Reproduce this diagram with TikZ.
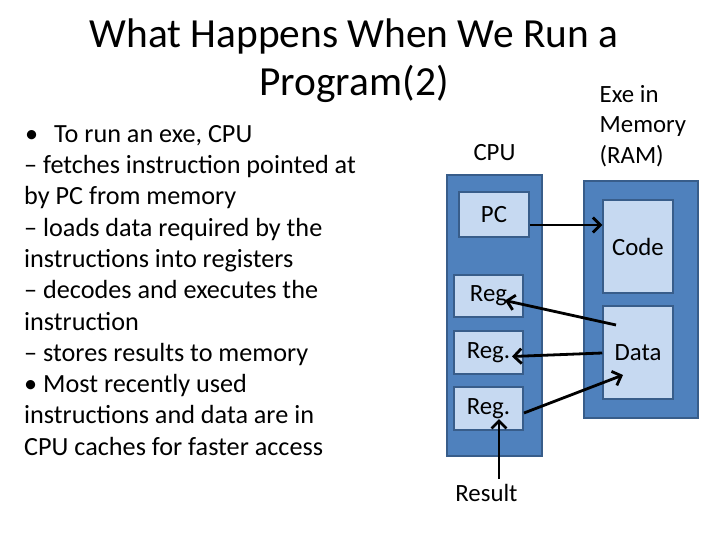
\documentclass[tikz,border=0pt]{standalone}
\usepackage{fontspec}
\setmainfont{Carlito}
\usetikzlibrary{arrows.meta}
\definecolor{boxblue}{HTML}{4F81BD}
\definecolor{boxedge}{HTML}{385D8A}
\definecolor{cellblue}{HTML}{C6D9F1}
\begin{document}
\begin{tikzpicture}[x=1pt,y=-1pt,
  outerbox/.style={draw=boxedge, fill=boxblue, line width=1.5pt, inner sep=0pt},
  cellbox/.style={draw=boxedge, fill=cellblue, line width=1.5pt, inner sep=0pt,
    font=\fontsize{24.8}{28}\selectfont},
  lbl/.style={inner sep=0pt, font=\fontsize{24.8}{28}\selectfont},
  arr/.style={line width=2.8pt, -{Straight Barb[length=7.5pt,width=15pt]}}]
\useasboundingbox (0,0) rectangle (724,533);

% title
\node[lbl, anchor=base, font=\fontsize{41.4}{48}\selectfont] (title1) at (354,47) {What Happens When We Run a};
\node[lbl, anchor=base, font=\fontsize{41.4}{48}\selectfont] (title2) at (354,95) {Program(2)};

% bullet text
\node[lbl, anchor=north west, align=left,
  font=\fontsize{26.2}{31.3}\selectfont] (body) at (24,125)
  {\hspace*{1pt}\textbullet\hspace{16pt}To run an exe, CPU\\
   – fetches instruction pointed at\\
   by PC from memory\\
   – loads data required by the\\
   instructions into registers\\
   – decodes and executes the\\
   instruction\\
   – stores results to memory\\
   \textbullet{} Most recently used\\
   instructions and data are in\\
   CPU caches for faster access};

% labels
\node[lbl, anchor=base] (cpulbl) at (494.5,160) {CPU};
\node[lbl, anchor=north west, align=left, font=\fontsize{24.8}{30.5}\selectfont] (ramlbl) at (599.5,85)
  {Exe in\\Memory\\(RAM)};

% containers
\node[outerbox, minimum width=95pt, minimum height=281pt] (cpu) at (494.5,315.5) {};
\node[outerbox, minimum width=114pt, minimum height=237pt] (ram) at (641,299.5) {};

% cells
\node[cellbox, minimum width=70pt, minimum height=45pt] (pc) at (494,214.5) {PC};
\node[cellbox, minimum width=70pt, minimum height=93pt] (code) at (638,246.5) {Code};
\node[cellbox, minimum width=70pt, minimum height=93pt] (data) at (638,352.5) {Data};
\node[cellbox, minimum width=69pt, minimum height=42pt] (reg1) at (488.5,296) {Reg};
\node[cellbox, minimum width=69pt, minimum height=43pt] (reg2) at (488.5,352.5) {Reg.};
\node[cellbox, minimum width=69pt, minimum height=43pt] (reg3) at (488.5,408.5) {Reg.};

\node[lbl, anchor=base] (result) at (486.5,501) {Result};

% arrow end points
\coordinate (d1) at (616,325);
\coordinate (r1) at (505,300.5);
\coordinate (r2) at (512,356.5);
\coordinate (r3) at (524,413);
\coordinate (d3) at (623,375);
\coordinate (rs) at (499,479);
\coordinate (r3b) at (499,419);

% data flow
\draw[arr] (pc.east |- 0,225) -- (code.west |- 0,225);
\draw[arr] (d1) -- (r1);
\draw[arr] (data.west |- 0,353) -- (r2);
\draw[arr] (r3) -- (d3);
\draw[arr] (rs) -- (r3b);
\end{tikzpicture}
\end{document}
